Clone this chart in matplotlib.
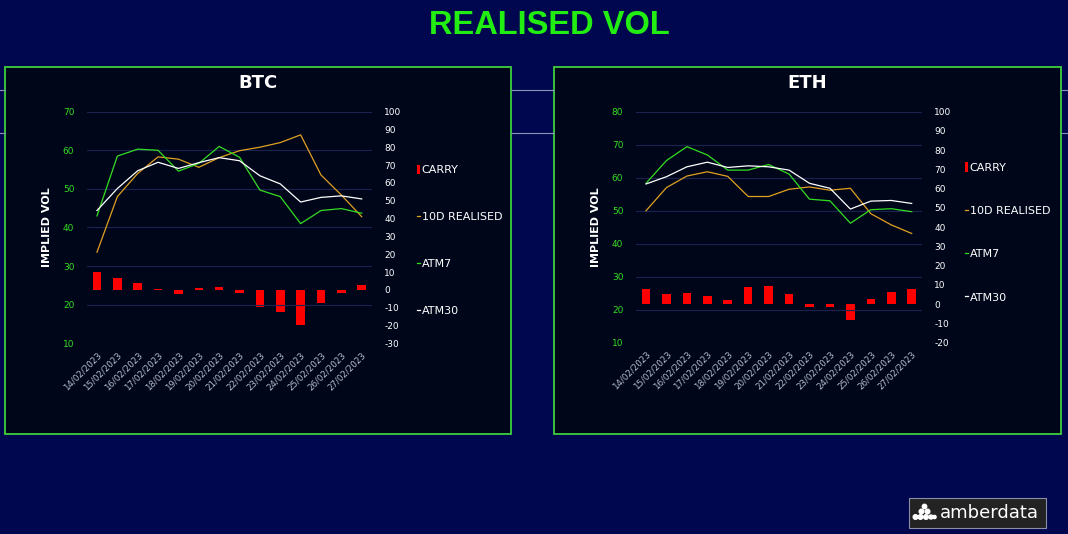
import matplotlib
matplotlib.use("Agg")
import matplotlib.pyplot as plt
from matplotlib.patches import Rectangle, Ellipse, Patch
from matplotlib.lines import Line2D
import numpy as np

plt.rcParams["axes.unicode_minus"] = False

dates = ["14/02/2023", "15/02/2023", "16/02/2023", "17/02/2023", "18/02/2023",
         "19/02/2023", "20/02/2023", "21/02/2023", "22/02/2023", "23/02/2023",
         "24/02/2023", "25/02/2023", "26/02/2023", "27/02/2023"]

btc_atm30 = [44.4, 50.1, 54.7, 56.9, 55.3, 56.8, 58.1, 57.3, 53.4, 51.3, 46.6, 47.8, 48.2, 47.4]
btc_atm7 = [43.0, 58.5, 60.3, 60.0, 54.6, 56.6, 61.0, 58.2, 49.7, 48.0, 41.0, 44.4, 44.9, 43.7]
btc_realised = [33.6, 48.0, 54.0, 58.3, 57.7, 55.6, 58.1, 59.9, 60.8, 62.0, 64.0, 53.6, 48.4, 42.8]
btc_carry = [10.3, 6.5, 4.1, 0.2, -2.4, 1.1, 1.7, -1.9, -9.4, -12.2, -20.0, -7.1, -1.5, 2.8]

eth_atm30 = [58.1, 60.3, 63.3, 64.7, 63.1, 63.6, 63.3, 62.3, 58.3, 56.8, 50.5, 52.9, 53.1, 52.2]
eth_atm7 = [58.3, 65.2, 69.4, 66.9, 62.3, 62.3, 64.0, 61.1, 53.5, 53.0, 46.2, 50.3, 50.6, 49.7]
eth_realised = [50.0, 57.0, 60.5, 61.8, 60.4, 54.3, 54.3, 56.5, 57.2, 56.2, 56.8, 49.1, 45.7, 43.1]
eth_carry = [8.0, 5.5, 5.9, 4.0, 2.3, 8.7, 9.2, 5.2, -1.2, -1.4, -8.3, 2.6, 6.4, 8.0]

W, H = 1068, 534
BG = "#00074f"
PANEL = "#00061a"
GREEN = "#33dd22"
BORDER = "#3ecf3e"
ORANGE = "#e0a020"
RED = "#ff0000"
GRID = "#1a2350"

fig = plt.figure(figsize=(W / 100, H / 100), dpi=100)
fig.patch.set_facecolor(BG)


def fx(x):
    return x / W


def fy(y):
    return 1 - y / H


# background horizontal lines (visible only in the gaps between panels)
for yy in (89.5, 132.5):
    for (a, b) in ((0, 5), (511, 554), (1061, 1068)):
        fig.add_artist(Line2D([fx(a), fx(b)], [fy(yy), fy(yy)], color="#8a93b8", lw=0.8))

fig.text(fx(549), fy(25), "REALISED VOL", color="#22ee11", fontsize=23.5, fontweight="bold",
         ha="center", va="center", family="Liberation Sans")


def panel(x0, x1, y0, y1, ax_box, name, atm30, atm7, realised, carry,
          lmin, lmax, rmin, rmax, title_x, leg_x, leg_y, leg_sp):
    fig.add_artist(Rectangle((fx(x0), fy(y1)), fx(x1 - x0), (y1 - y0) / H,
                             facecolor=PANEL, edgecolor=BORDER, lw=1.3))
    fig.text(fx(title_x), fy(83), name, color="white", fontsize=13, fontweight="bold",
             ha="center", va="center")
    l, t, r, b = ax_box
    ax = fig.add_axes([fx(l), fy(b), fx(r - l), (b - t) / H])
    ax.set_zorder(3)
    ax.patch.set_alpha(0)
    axr = ax.twinx()
    axr.set_zorder(2)
    x = np.arange(len(dates))
    axr.bar(x, carry, width=0.42, color=RED, zorder=2, label="CARRY")
    axr.set_ylim(rmin, rmax)
    axr.set_yticks(np.arange(rmin, rmax + 1, 10))
    ax.plot(x, realised, color=ORANGE, lw=0.9, label="10D REALISED")
    ax.plot(x, atm7, color=GREEN, lw=0.9, label="ATM7")
    ax.plot(x, atm30, color="white", lw=0.9, label="ATM30")
    ax.set_ylim(lmin, lmax)
    ax.set_yticks(np.arange(lmin, lmax + 1, 10))
    ax.set_xlim(-0.5, len(dates) - 0.5)
    ax.set_xticks(x)
    ax.set_xticklabels(dates, rotation=45, ha="right", rotation_mode="anchor",
                       fontsize=6.2, color="#b8bccc")
    ax.grid(axis="y", color=GRID, lw=0.8)
    ax.set_axisbelow(True)
    for a in (ax, axr):
        for s in a.spines.values():
            s.set_visible(False)
        a.tick_params(length=0)
    ax.tick_params(axis="y", colors=GREEN, labelsize=6.5, pad=9)
    ax.tick_params(axis="x", pad=5)
    axr.tick_params(axis="y", colors="white", labelsize=6.5, pad=9)
    ax.set_ylabel("IMPLIED VOL", color="white", fontsize=8, fontweight="bold", labelpad=8)
    handles = [Patch(facecolor=RED, label="CARRY"),
               Line2D([], [], color=ORANGE, lw=0.9, label="10D REALISED"),
               Line2D([], [], color=GREEN, lw=0.9, label="ATM7"),
               Line2D([], [], color="white", lw=0.9, label="ATM30")]
    leg = fig.legend(handles=handles, loc="center left",
                     bbox_to_anchor=(fx(leg_x), fy(leg_y)), frameon=False,
                     fontsize=8, labelcolor="white", handlelength=0.35, handleheight=0.9,
                     handletextpad=0.1, labelspacing=leg_sp, borderpad=0)
    leg.set_zorder(6)
    return ax


panel(5, 511, 67, 434, (86.8, 111.7, 371.9, 343.3), "BTC",
      btc_atm30, btc_atm7, btc_realised, btc_carry,
      10, 70, -30, 100, 258, 411, 240.5, 3.3)
panel(554, 1061, 67, 434, (635.8, 111.7, 921.9, 342.7), "ETH",
      eth_atm30, eth_atm7, eth_realised, eth_carry,
      10, 80, -20, 100, 807, 959, 232.5, 2.95)

# logo
fig.add_artist(Rectangle((fx(909), fy(528)), fx(137), 30 / H, facecolor="#232323",
                         edgecolor="#8a8fa8", lw=0.8, zorder=4))
dots = [(924.5, 506.5, 2.2), (921.5, 511.5, 2.3), (927.5, 511.5, 2.3),
        (915.5, 517, 2.3), (920.5, 517, 2.3), (926, 517, 2.3), (931, 517, 2.0), (934.5, 517, 1.6)]
for (cx, cy, r) in dots:
    fig.add_artist(Ellipse((fx(cx), fy(cy)), 2 * r / W, 2 * r / H, color="white", zorder=5))
fig.text(fx(940), fy(513), "amberdata", color="white", fontsize=13, ha="left",
         va="center", zorder=5, family="DejaVu Sans")

fig.savefig("out.png", dpi=100, facecolor=BG)
